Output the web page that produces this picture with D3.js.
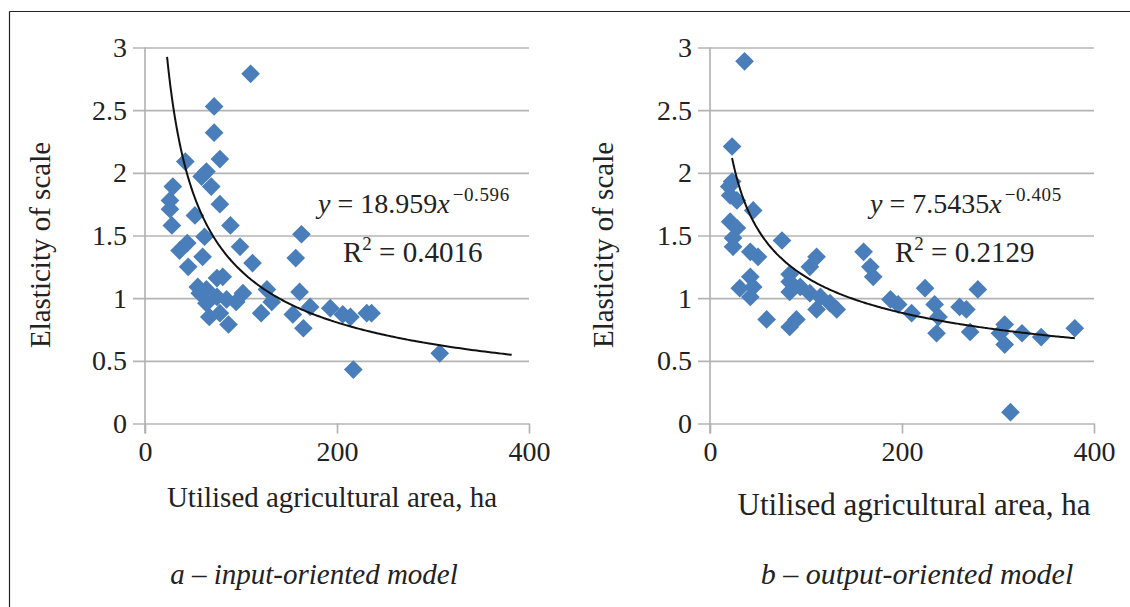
<!DOCTYPE html>
<html><head><meta charset="utf-8">
<script src="https://cdn.jsdelivr.net/npm/d3@7"></script>
<style>
html,body{margin:0;padding:0;background:#fff;}
svg{display:block;font-family:"Liberation Serif","Times New Roman",serif;}
</style></head>
<body>
<svg id="c" width="1130" height="607"></svg>
<script>
// ---- data ----
const leftX = [110,72,72,78,42,64,59,69,29,26,26,78,52,28,89,163,157,44,62,36,99,60,45,112,75,81,55,64,57,75,64,85,102,95,78,87,67,127,132,121,161,154,172,165,193,206,214,231,236,217,307];
const leftY = [2.79,2.53,2.32,2.11,2.09,2.01,1.97,1.89,1.89,1.78,1.71,1.75,1.66,1.58,1.58,1.51,1.32,1.44,1.49,1.38,1.41,1.33,1.25,1.28,1.16,1.17,1.09,1.07,1.04,1.01,0.96,0.99,1.04,0.97,0.88,0.79,0.85,1.07,0.97,0.88,1.05,0.87,0.93,0.76,0.92,0.87,0.85,0.88,0.88,0.43,0.56];
const rightX = [36,23,23,20,21,28,45,21,28,24,24,42,50,75,111,104,42,83,160,167,170,31,45,42,83,83,94,104,115,125,132,111,90,83,59,188,196,210,224,279,234,238,236,260,267,271,307,302,307,325,345,380,313];
const rightY = [2.89,2.21,1.93,1.89,1.82,1.78,1.70,1.61,1.56,1.48,1.41,1.37,1.33,1.46,1.33,1.25,1.17,1.19,1.37,1.25,1.17,1.08,1.09,1.01,1.13,1.05,1.09,1.04,1.01,0.96,0.91,0.91,0.83,0.77,0.83,0.99,0.95,0.88,1.08,1.07,0.95,0.85,0.72,0.93,0.91,0.73,0.79,0.72,0.63,0.72,0.69,0.76,0.09];
const yTicks = [0,0.5,1,1.5,2,2.5,3];
const yTickLabels = ["0","0.5","1","1.5","2","2.5","3"];
const xTicks = [0,200,400];
const xTickLabels = ["0","200","400"];
// power trendlines y = a * x^b (coefficients shown on chart), fitted range
const trendA = [18.959, 7.5435];
const trendB = [-0.596, -0.405];
const trendRange = [[23,382],[23,380]];
const coefText = ["18.959","7.5435"];
const expText = ["\u22120.596","\u22120.405"];
const r2Text = ["0.4016","0.2129"];
const captions = [["a"," \u2013 input-oriented model"],["b"," \u2013 output-oriented model"]];
const yTitle = "Elasticity of scale";
const xTitle = "Utilised agricultural area, ha";

const svg = d3.select("#c");
// frame
svg.append("line").attr("x1",9.5).attr("x2",1130).attr("y1",11.5).attr("y2",11.5).attr("stroke","#222").attr("stroke-width",1.2);
svg.append("line").attr("x1",9.5).attr("x2",9.5).attr("y1",11.5).attr("y2",607).attr("stroke","#222").attr("stroke-width",1.2);

const panels = [
  {x0:145, x1:529, xs:leftX, ys:leftY, yLabX:50, xTitleX:332, xTitleY:507, xTitleSize:29, eqX:318, capX:314, capSize:29, idx:0},
  {x0:710, x1:1094, xs:rightX, ys:rightY, yLabX:613, xTitleX:914, xTitleY:515, xTitleSize:31, eqX:870, capX:917, capSize:30, idx:1}
];
const yTop = 47.5, yBot = 423.5;
const blue = "#4a7ebb";
const serif = "Liberation Serif, Times New Roman, serif";

panels.forEach(p => {
  const x = d3.scaleLinear().domain([0,400]).range([p.x0,p.x1]);
  const y = d3.scaleLinear().domain([0,3]).range([yBot,yTop]);
  const g = svg.append("g");
  // gridlines + y ticks
  const yAxis = d3.axisLeft(y).tickValues(yTicks).tickFormat((d,i)=>yTickLabels[i]).tickSize(-(p.x1-p.x0)).tickPadding(18);
  const ya = g.append("g").attr("transform",`translate(${p.x0},0)`).call(yAxis).attr("font-family",serif).attr("font-size",28);
  ya.select(".domain").remove();
  ya.selectAll(".tick line").attr("stroke","#b4b4b4").attr("stroke-width",1.6).attr("x1",-12);
  ya.selectAll(".tick text").attr("fill","#222");
  // y axis line
  g.append("line").attr("x1",p.x0).attr("x2",p.x0).attr("y1",yTop).attr("y2",yBot+10).attr("stroke","#b0b0b0").attr("stroke-width",1.6);
  // x axis
  const xAxis = d3.axisBottom(x).tickValues(xTicks).tickFormat((d,i)=>xTickLabels[i]).tickSize(10).tickPadding(8);
  const xa = g.append("g").attr("transform",`translate(0,${yBot})`).call(xAxis).attr("font-family",serif).attr("font-size",28);
  xa.select(".domain").remove();
  xa.selectAll(".tick line").attr("stroke","#b0b0b0").attr("stroke-width",1.6);
  xa.selectAll(".tick text").attr("fill","#222");
  // points
  const pts = p.xs.map((v,i)=>[v,p.ys[i]]);
  g.append("g").selectAll("path").data(pts).join("path")
    .attr("d", d3.symbol(d3.symbolSquare, 175)())
    .attr("transform", d=>`translate(${x(d[0])},${y(d[1])}) rotate(45)`)
    .attr("fill", blue);
  // trendline
  const [a,b] = [trendA[p.idx], trendB[p.idx]];
  const [lo,hi] = trendRange[p.idx];
  const tx = d3.range(0,201).map(i=>lo+(hi-lo)*Math.pow(i/200,2));
  const line = d3.line().x(d=>x(d)).y(d=>y(a*Math.pow(d,b))).curve(d3.curveMonotoneX);
  g.append("path").attr("d", line(tx)).attr("fill","none").attr("stroke","#111").attr("stroke-width",2);
  // equation
  const eq = g.append("text").attr("x",p.eqX).attr("y",213).attr("font-size",28).attr("fill","#222");
  eq.append("tspan").attr("font-style","italic").text("y");
  eq.append("tspan").text(" = " + coefText[p.idx]);
  eq.append("tspan").attr("font-style","italic").text("x");
  eq.append("tspan").attr("font-size",19).attr("dy",-12).attr("dx",3).attr("letter-spacing",0.6).text(expText[p.idx]);
  const r2 = g.append("text").attr("x",p.eqX+25).attr("y",262).attr("font-size",29).attr("fill","#222");
  r2.append("tspan").text("R");
  r2.append("tspan").attr("font-size",19).attr("dy",-12).text("2");
  r2.append("tspan").attr("dy",12).text(" = " + r2Text[p.idx]);
  // y title
  g.append("text").attr("transform",`translate(${p.yLabX},245) rotate(-90)`).attr("text-anchor","middle")
    .attr("font-size",29).attr("fill","#222").text(yTitle);
  // x title
  g.append("text").attr("x",p.xTitleX).attr("y",p.xTitleY).attr("text-anchor","middle")
    .attr("font-size",p.xTitleSize).attr("fill","#222").text(xTitle);
  // caption
  const cap = g.append("text").attr("x",p.capX).attr("y",584).attr("text-anchor","middle")
    .attr("font-size",p.capSize).attr("font-style","italic").attr("fill","#222");
  cap.append("tspan").text(captions[p.idx][0]);
  cap.append("tspan").text(captions[p.idx][1]);
});
</script>
</body></html>
